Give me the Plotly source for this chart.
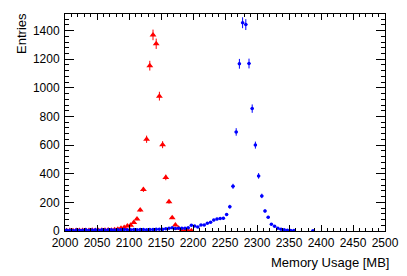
import numpy as np
import plotly.graph_objects as go

# Red histogram (5 MB bins, bin centres)
red_x = [2002.5, 2007.5, 2012.5, 2017.5, 2022.5, 2027.5, 2032.5, 2037.5, 2042.5, 2047.5,
         2052.5, 2057.5, 2062.5, 2067.5, 2072.5, 2077.5, 2082.5, 2087.5, 2092.5, 2097.5,
         2102.5, 2107.5, 2112.5, 2117.5, 2122.5, 2127.5, 2132.5, 2137.5, 2142.5, 2147.5,
         2152.5, 2157.5, 2162.5, 2167.5, 2172.5, 2177.5, 2182.5, 2187.5, 2192.5, 2197.5]
red_y = [2, 3, 2, 3, 4, 3, 4, 3, 5, 4,
         4, 5, 6, 7, 6, 8, 12, 19, 25, 35,
         40, 60, 84, 146, 290, 641, 1155, 1370, 1308, 942,
         603, 374, 205, 93, 42, 19, 5, 3, 2, 1]

# Blue histogram
blue_x = [2002.5, 2007.5, 2012.5, 2017.5, 2022.5, 2027.5, 2032.5, 2037.5, 2042.5, 2047.5,
          2052.5, 2057.5, 2062.5, 2067.5, 2072.5, 2077.5, 2082.5, 2087.5, 2092.5, 2097.5,
          2102.5, 2107.5, 2112.5, 2117.5, 2122.5, 2127.5, 2132.5, 2137.5, 2142.5, 2147.5,
          2152.5, 2157.5, 2162.5, 2167.5, 2172.5, 2177.5, 2182.5, 2187.5, 2192.5, 2197.5,
          2202.5, 2207.5, 2212.5, 2217.5, 2222.5, 2227.5, 2232.5, 2237.5, 2242.5, 2247.5,
          2252.5, 2257.5, 2262.5, 2267.5, 2272.5, 2277.5, 2282.5, 2287.5, 2292.5, 2297.5,
          2302.5, 2307.5, 2312.5, 2317.5, 2322.5, 2327.5, 2332.5, 2337.5, 2342.5, 2347.5,
          2352.5, 2357.5, 2387.5]
blue_y = [5, 6, 4, 7, 6, 5, 8, 6, 7, 9,
          6, 8, 7, 9, 8, 7, 9, 8, 10, 9,
          9, 10, 8, 11, 10, 9, 11, 10, 12, 13,
          12, 16, 19, 23, 17, 19, 20, 20, 22, 40,
          35, 28, 42, 42, 55, 62, 76, 83, 88, 89,
          115, 170, 312, 692, 1168, 1455, 1442, 1170, 855, 600,
          385, 245, 140, 96, 47, 33, 19, 13, 8, 6,
          4, 3, 2]

x_range = [2000, 2500]
y_range = [0, 1516]

fig = go.Figure()
for xs, ys, col, sym, sz in [(red_x, red_y, "#ff0000", "triangle-up", 6),
                             (blue_x, blue_y, "#0000ff", "circle", 3.5)]:
    fig.add_trace(go.Scatter(
        x=xs, y=ys, mode="markers",
        marker=dict(color=col, symbol=sym, size=sz, line=dict(width=0)),
        error_y=dict(type="data", array=list(np.sqrt(ys)), color=col, thickness=1, width=0),
        error_x=dict(type="constant", value=2.5, color=col, thickness=1, width=0),
        showlegend=False,
    ))

font = dict(family="Liberation Sans, Arial, sans-serif", size=12, color="black")
title_font = dict(family="Liberation Sans, Arial, sans-serif", size=13, color="black")
axis_common = dict(
    showgrid=False, zeroline=False, showline=True, linecolor="black", linewidth=1,
    mirror="allticks", ticks="inside", tickcolor="black", tickwidth=1,
    tickfont=font,
)
# page body has an 8px default margin: figure is sized to fit the window
fig.update_layout(
    width=399, height=268,
    margin=dict(l=57, r=22, t=6, b=45),
    paper_bgcolor="white", plot_bgcolor="white",
    font=font,
    xaxis=dict(range=x_range, dtick=50, tick0=2000, ticklen=6,
               minor=dict(dtick=10, ticklen=3, ticks="inside", tickcolor="black", showgrid=False),
               ticklabelstandoff=1, **axis_common),
    yaxis=dict(range=y_range, dtick=200, tick0=0, ticklen=9,
               minor=dict(dtick=40, ticklen=4, ticks="inside", tickcolor="black", showgrid=False),
               ticklabelstandoff=2, **axis_common),
    annotations=[
        dict(text="Entries", xref="paper", yref="paper", x=-0.138, y=0.912,
             textangle=-90, showarrow=False, xanchor="center", yanchor="middle", font=title_font),
        dict(text="Memory Usage [MB]", xref="paper", yref="paper", x=0.829, y=-0.146,
             showarrow=False, xanchor="center", yanchor="middle", font=title_font),
    ],
)
fig.write_html("out.html")
